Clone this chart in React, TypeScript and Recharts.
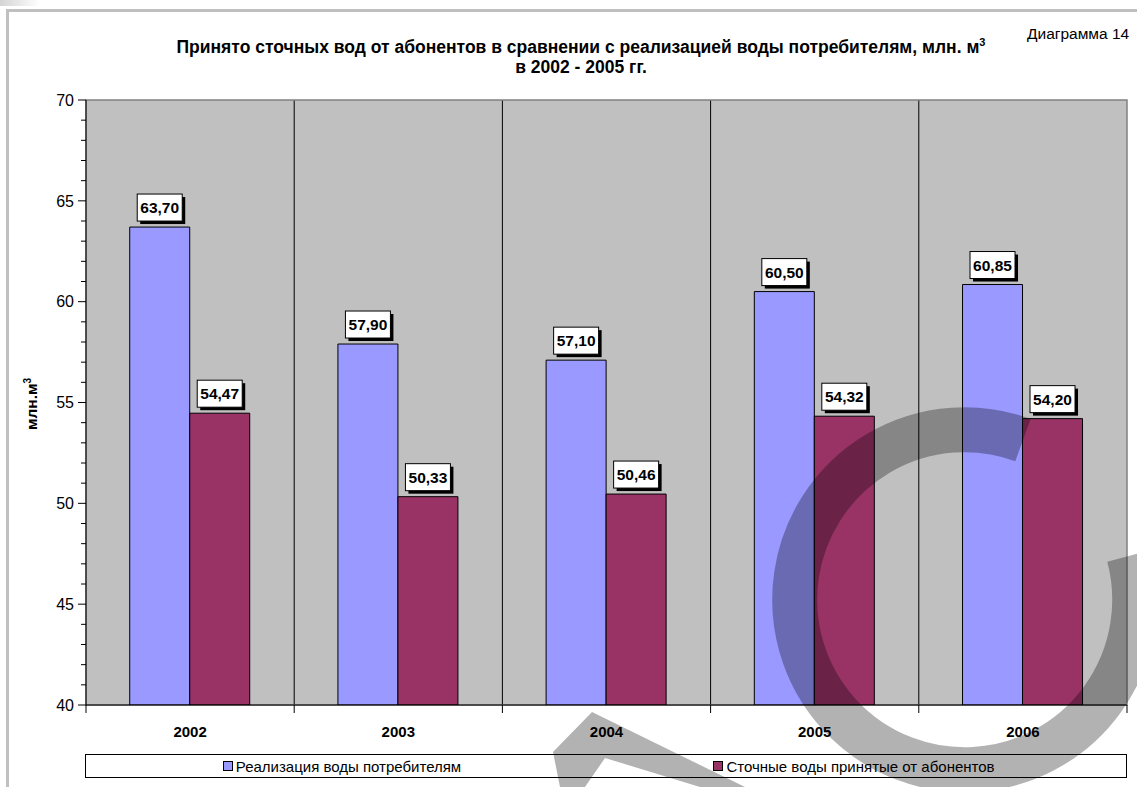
import React from 'react'
import {
  BarChart,
  Bar,
  XAxis,
  YAxis,
  CartesianGrid,
  Legend,
  LabelList,
  ReferenceArea,
} from 'recharts'

const years = ['2002', '2003', '2004', '2005', '2006']
const soldWater = [63.7, 57.9, 57.1, 60.5, 60.85]
const wasteWater = [54.47, 50.33, 50.46, 54.32, 54.2]
const seriesNames = ['Реализация воды потребителям', 'Сточные воды принятые от абонентов']
const seriesColors = ['#9999FF', '#993366']
const majorTicks = [40, 45, 50, 55, 60, 65, 70]
const allTicks = [
  40, 41, 42, 43, 44, 45, 46, 47, 48, 49, 50, 51, 52, 53, 54, 55,
  56, 57, 58, 59, 60, 61, 62, 63, 64, 65, 66, 67, 68, 69, 70,
]

const data = years.map((year, i) => ({
  year,
  sold: soldWater[i],
  waste: wasteWater[i],
}))

const FONT = '"Liberation Sans", Arial, sans-serif'

const fmt = (v: number) => v.toFixed(2).replace('.', ',')

function ValueBox(props: any) {
  const x = Number(props.x)
  const y = Number(props.y)
  const width = Number(props.width)
  const w = 45
  const h = 27
  const cx = x + width / 2
  const bx = cx - w / 2
  const by = y - 6 - h
  return (
    <g>
      <rect x={bx + 3} y={by + 3} width={w} height={h} fill="#000" />
      <rect x={bx} y={by} width={w} height={h} fill="#fff" stroke="#000" strokeWidth={1} />
      <text
        x={cx}
        y={by + h / 2}
        dy="0.36em"
        textAnchor="middle"
        fontSize={15.5}
        fontWeight="bold"
        fontFamily={FONT}
        fill="#000"
      >
        {fmt(Number(props.value))}
      </text>
    </g>
  )
}

// y axis: label on every 5th, short tick on the others
function YTick(props: any) {
  const { x, y, payload } = props
  const ax = x + 12
  const major = majorTicks.includes(payload.value)
  return (
    <g>
      <line x1={ax - (major ? 8 : 5)} x2={ax} y1={y} y2={y} stroke="#000" />
      {major && (
        <text x={x} y={y} dy="0.36em" textAnchor="end" fontSize={16} fontFamily={FONT} fill="#000">
          {payload.value}
        </text>
      )}
    </g>
  )
}

// x axis: tick marks sit between the categories
function XTick(props: any) {
  const { x, y, payload, index, visibleTicksCount } = props
  const band = (props.width || 1041) / (visibleTicksCount || years.length)
  const ay = y - 21
  const last = index === (visibleTicksCount || years.length) - 1
  return (
    <g>
      <line x1={x - band / 2} x2={x - band / 2} y1={ay} y2={ay + 8} stroke="#000" />
      {last && <line x1={x + band / 2} x2={x + band / 2} y1={ay} y2={ay + 8} stroke="#000" />}
      <text x={x} y={y} dy="0.71em" textAnchor="middle" fontSize={15} fontWeight="bold" fontFamily={FONT} fill="#000">
        {payload.value}
      </text>
    </g>
  )
}

function LegendBox(props: any) {
  const items = props.payload || []
  return (
    <div
      style={{
        boxSizing: 'border-box',
        width: 1042,
        height: 24,
        border: '1px solid #000',
        background: '#fff',
        display: 'flex',
        alignItems: 'center',
        paddingRight: 16,
        fontFamily: FONT,
        fontSize: 15,
        color: '#000',
      }}
    >
      {items.map((it: any) => (
        <div key={it.value} style={{ flex: 1, display: 'flex', justifyContent: 'center', alignItems: 'center' }}>
          <span
            style={{
              display: 'inline-block',
              width: 8,
              height: 8,
              border: '1px solid #000',
              background: it.color,
              marginRight: 3,
            }}
          />
          <span>{it.value}</span>
        </div>
      ))}
    </div>
  )
}

export default function App() {
  return (
    <div
      style={{
        position: 'absolute',
        left: 0,
        top: 0,
        width: 1137,
        height: 787,
        background: '#fff',
        overflow: 'hidden',
        fontFamily: FONT,
      }}
    >
      {/* page frame */}
      <div style={{ position: 'absolute', left: 0, top: 0, width: 40, height: 6, background: 'linear-gradient(to right, #d4d4d4, #fff)' }} />
      <div style={{ position: 'absolute', left: 6, top: 9, width: 1131, height: 3, background: '#C0C0C0' }} />
      <div style={{ position: 'absolute', left: 6, top: 9, width: 3, height: 778, background: '#C0C0C0' }} />

      <div
        style={{
          position: 'absolute',
          left: 131,
          width: 900,
          top: 37,
          textAlign: 'center',
          fontSize: 17.5,
          fontWeight: 'bold',
          lineHeight: '20px',
          color: '#000',
        }}
      >
        Принято сточных вод от абонентов в сравнении с реализацией воды потребителям, млн. м
        <sup style={{ fontSize: 11, verticalAlign: 'top', lineHeight: '10px' }}>3</sup>
        <br />в 2002 - 2005 гг.
      </div>
      <div style={{ position: 'absolute', left: 1027, top: 25, fontSize: 15.5, color: '#000' }}>Диаграмма 14</div>
      <div
        style={{
          position: 'absolute',
          left: 32,
          top: 404,
          transform: 'translate(-50%, -50%) rotate(-90deg)',
          fontSize: 15.5,
          fontWeight: 'bold',
          whiteSpace: 'nowrap',
          color: '#000',
        }}
      >
        млн.м<sup style={{ fontSize: 10, verticalAlign: 'top', lineHeight: '10px' }}>3</sup>
      </div>

      <div style={{ position: 'absolute', left: 0, top: 0 }}>
        <BarChart
          width={1137}
          height={787}
          data={data}
          margin={{ top: 100, right: 10, left: 26, bottom: 28 }}
          barCategoryGap="21%"
          barGap={0}
        >
          <CartesianGrid
            horizontal={false}
            fill="#C0C0C0"
            fillOpacity={1}
            stroke="#000"
            verticalCoordinatesGenerator={({ offset }: any) =>
              years.slice(1).map((_, i) => offset.left + ((i + 1) * offset.width) / years.length)
            }
          />
          <ReferenceArea y1={40} y2={70} fill="none" stroke="#808080" strokeWidth={1.5} />
          <XAxis
            dataKey="year"
            axisLine={{ stroke: '#000' }}
            tickLine={false}
            tickSize={8}
            tickMargin={13}
            tick={<XTick />}
            interval={0}
          />
          <YAxis
            width={60}
            domain={[40, 70]}
            ticks={allTicks}
            interval={0}
            allowDataOverflow
            axisLine={{ stroke: '#000' }}
            tickLine={false}
            tickSize={7}
            tickMargin={5}
            tick={<YTick />}
          />
          <Legend content={<LegendBox />} wrapperStyle={{ left: 85, top: 754, width: 1042, height: 24 }} />
          <Bar dataKey="sold" name={seriesNames[0]} fill={seriesColors[0]} stroke="#000" strokeWidth={1} isAnimationActive={false}>
            <LabelList dataKey="sold" content={<ValueBox />} />
          </Bar>
          <Bar dataKey="waste" name={seriesNames[1]} fill={seriesColors[1]} stroke="#000" strokeWidth={1} isAnimationActive={false}>
            <LabelList dataKey="waste" content={<ValueBox />} />
          </Bar>
        </BarChart>
      </div>

      {/* watermark */}
      <svg width={1137} height={787} style={{ position: 'absolute', left: 0, top: 0, pointerEvents: 'none' }}>
        <path d="M 1023 440 A 170 170 0 1 0 1129 556" fill="none" stroke="#000" strokeOpacity={0.3} strokeWidth={45} />
        <polygon points="592,712 745,787 700,787 605,758 585,787 560,787 553,752" fill="#000" fillOpacity={0.3} />
      </svg>
    </div>
  )
}
